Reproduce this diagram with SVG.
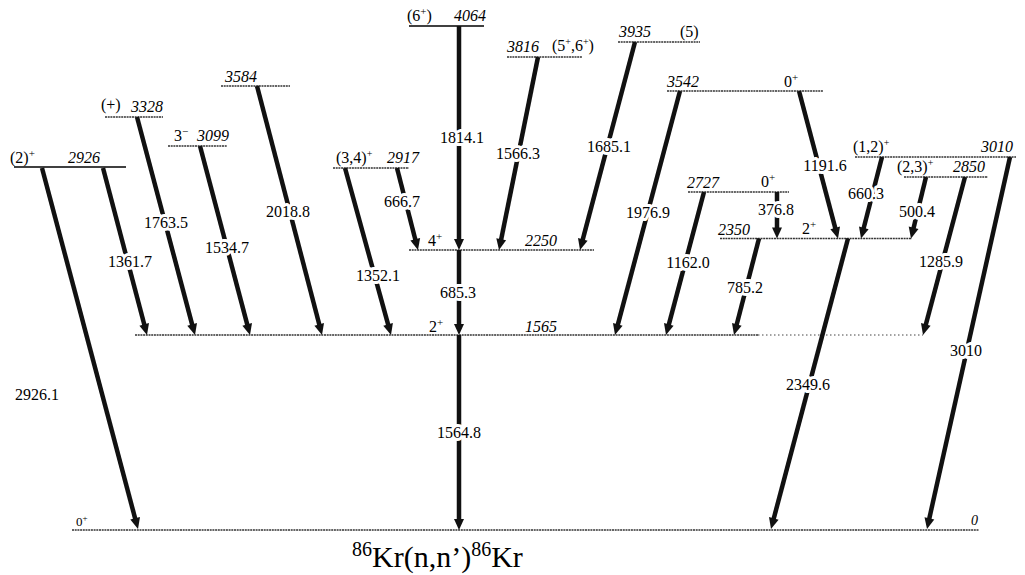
<svg xmlns="http://www.w3.org/2000/svg" width="1025" height="575" viewBox="0 0 1025 575">
<rect width="1025" height="575" fill="#fff"/>
<g id="levels" font-family="Liberation Serif" font-size="16" fill="#000">
<g id="level-0">
<line x1="72" y1="530" x2="979" y2="530" stroke="#333" stroke-width="1.4" stroke-dasharray="2 0.7"/>
<text x="76" y="526" font-size="13" style="font-family:'Liberation Serif',serif !important">0<tspan font-size="9" dy="-5">+</tspan></text>
<text x="971" y="525" font-size="14" font-style="italic" style="font-family:'Liberation Serif',serif !important">0</text>
</g>
<g id="level-1565">
<line x1="135" y1="335" x2="758" y2="335" stroke="#333" stroke-width="1.4" stroke-dasharray="2 0.7"/>
<line x1="758" y1="335" x2="923" y2="335" stroke="#444" stroke-width="1" stroke-dasharray="1.5 2.5"/>
<text x="429" y="332" font-size="16" style="font-family:'Liberation Serif',serif !important">2<tspan font-size="11" dy="-6">+</tspan></text>
<text x="525" y="332" font-size="16" font-style="italic" style="font-family:'Liberation Serif',serif !important">1565</text>
</g>
<g id="level-2250">
<line x1="409" y1="250" x2="594" y2="250" stroke="#333" stroke-width="1.4" stroke-dasharray="2 0.7"/>
<text x="428" y="246" font-size="16" style="font-family:'Liberation Serif',serif !important">4<tspan font-size="11" dy="-6">+</tspan></text>
<text x="525" y="246" font-size="16" font-style="italic" style="font-family:'Liberation Serif',serif !important">2250</text>
</g>
<g id="level-2350">
<line x1="720" y1="238.5" x2="912" y2="238.5" stroke="#333" stroke-width="1.4" stroke-dasharray="2 0.7"/>
<text x="718" y="235" font-size="16" font-style="italic" style="font-family:'Liberation Serif',serif !important">2350</text>
<text x="802" y="234" font-size="16" style="font-family:'Liberation Serif',serif !important">2<tspan font-size="11" dy="-6">+</tspan></text>
</g>
<g id="level-2727">
<line x1="688" y1="192" x2="789" y2="192" stroke="#333" stroke-width="1.4" stroke-dasharray="2 0.7"/>
<text x="687" y="188" font-size="16" font-style="italic" style="font-family:'Liberation Serif',serif !important">2727</text>
<text x="761" y="187" font-size="16" style="font-family:'Liberation Serif',serif !important">0<tspan font-size="11" dy="-6">+</tspan></text>
</g>
<g id="level-2850">
<line x1="904" y1="177" x2="988" y2="177" stroke="#333" stroke-width="1.4" stroke-dasharray="2 0.7"/>
<text x="897" y="172" font-size="16" style="font-family:'Liberation Serif',serif !important">(2,3)<tspan font-size="10" dy="-6">+</tspan></text>
<text x="953" y="172" font-size="16" font-style="italic" style="font-family:'Liberation Serif',serif !important">2850</text>
</g>
<g id="level-2917">
<line x1="333" y1="168" x2="409" y2="168" stroke="#333" stroke-width="1.4" stroke-dasharray="2 0.7"/>
<text x="336" y="163" font-size="16" style="font-family:'Liberation Serif',serif !important">(3,4)<tspan font-size="10" dy="-6">+</tspan></text>
<text x="387" y="163" font-size="16" font-style="italic" style="font-family:'Liberation Serif',serif !important">2917</text>
</g>
<g id="level-2926">
<line x1="14" y1="167" x2="126" y2="167" stroke="#000" stroke-width="1.3"/>
<text x="10" y="163" font-size="16" style="font-family:'Liberation Serif',serif !important">(2)<tspan font-size="11" dy="-6">+</tspan></text>
<text x="68" y="163" font-size="16" font-style="italic" style="font-family:'Liberation Serif',serif !important">2926</text>
</g>
<g id="level-3010">
<line x1="855" y1="157" x2="1016" y2="157" stroke="#333" stroke-width="1.4" stroke-dasharray="2 0.7"/>
<text x="853" y="152" font-size="16" style="font-family:'Liberation Serif',serif !important">(1,2)<tspan font-size="10" dy="-6">+</tspan></text>
<text x="981" y="152" font-size="16" font-style="italic" style="font-family:'Liberation Serif',serif !important">3010</text>
</g>
<g id="level-3099">
<line x1="168" y1="146" x2="227" y2="146" stroke="#333" stroke-width="1.4" stroke-dasharray="2 0.7"/>
<text x="174" y="141" font-size="16" style="font-family:'Liberation Serif',serif !important">3<tspan font-size="11" dy="-6">−</tspan></text>
<text x="197" y="141" font-size="16" font-style="italic" style="font-family:'Liberation Serif',serif !important">3099</text>
</g>
<g id="level-3328">
<line x1="105" y1="117" x2="163" y2="117" stroke="#333" stroke-width="1.4" stroke-dasharray="2 0.7"/>
<text x="101" y="110" font-size="16" style="font-family:'Liberation Serif',serif !important">(+)</text>
<text x="131" y="112" font-size="16" font-style="italic" style="font-family:'Liberation Serif',serif !important">3328</text>
</g>
<g id="level-3542">
<line x1="667" y1="91" x2="823" y2="91" stroke="#333" stroke-width="1.4" stroke-dasharray="2 0.7"/>
<text x="667" y="87" font-size="16" font-style="italic" style="font-family:'Liberation Serif',serif !important">3542</text>
<text x="784" y="87" font-size="16" style="font-family:'Liberation Serif',serif !important">0<tspan font-size="11" dy="-6">+</tspan></text>
</g>
<g id="level-3584">
<line x1="221" y1="86" x2="290" y2="86" stroke="#333" stroke-width="1.4" stroke-dasharray="2 0.7"/>
<text x="225" y="82" font-size="16" font-style="italic" style="font-family:'Liberation Serif',serif !important">3584</text>
</g>
<g id="level-3816">
<line x1="507" y1="57" x2="582" y2="57" stroke="#333" stroke-width="1.4" stroke-dasharray="2 0.7"/>
<text x="507" y="52" font-size="16" font-style="italic" style="font-family:'Liberation Serif',serif !important">3816</text>
<text x="552" y="51" font-size="16" style="font-family:'Liberation Serif',serif !important">(5<tspan font-size="10" dy="-6">+</tspan><tspan dy="6">,6</tspan><tspan font-size="10" dy="-6">+</tspan><tspan dy="6">)</tspan></text>
</g>
<g id="level-3935">
<line x1="618" y1="42" x2="700" y2="42" stroke="#333" stroke-width="1.4" stroke-dasharray="2 0.7"/>
<text x="619" y="37" font-size="16" font-style="italic" style="font-family:'Liberation Serif',serif !important">3935</text>
<text x="680" y="37" font-size="16" style="font-family:'Liberation Serif',serif !important">(5)</text>
</g>
<g id="level-4064">
<line x1="409" y1="26" x2="484" y2="26" stroke="#000" stroke-width="1.3"/>
<text x="407" y="21" font-size="16" style="font-family:'Liberation Serif',serif !important">(6<tspan font-size="11" dy="-6">+</tspan><tspan dy="6">)</tspan></text>
<text x="454" y="21" font-size="16" font-style="italic" style="font-family:'Liberation Serif',serif !important">4064</text>
</g>
</g>

<g id="connectors">
<g stroke="#111" stroke-width="4.5" fill="none">
<line x1="42" y1="168" x2="135.9" y2="521.3"/>
<line x1="103" y1="168" x2="145" y2="327.3"/>
<line x1="137" y1="117" x2="192.9" y2="327.3"/>
<line x1="200" y1="146" x2="248" y2="327.3"/>
<line x1="257" y1="86" x2="320" y2="327.3"/>
<line x1="345" y1="168" x2="388.9" y2="327.3"/>
<line x1="397" y1="168" x2="416" y2="242.2"/>
<line x1="459" y1="26" x2="459" y2="242"/>
<line x1="459" y1="250" x2="459" y2="327"/>
<line x1="459" y1="335" x2="459" y2="522"/>
<line x1="538" y1="57" x2="500.6" y2="242.2"/>
<line x1="635" y1="42" x2="582" y2="242.3"/>
<line x1="680" y1="91" x2="617.1" y2="327.3"/>
<line x1="799" y1="91" x2="836" y2="230.8"/>
<line x1="704" y1="192" x2="668.1" y2="327.3"/>
<line x1="777" y1="192" x2="777" y2="230.5"/>
<line x1="759" y1="238.5" x2="736" y2="327.3"/>
<line x1="882" y1="157" x2="863" y2="230.8"/>
<line x1="926" y1="177" x2="912.9" y2="230.7"/>
<line x1="848" y1="238.5" x2="773" y2="521.3"/>
<line x1="965" y1="177" x2="925.1" y2="327.3"/>
<line x1="1010" y1="157" x2="928.7" y2="521.2"/>
</g>
<g fill="#111" stroke="none">
<polygon points="138,529 130.3,519.6 140,517.1"/>
<polygon points="147,335 139.4,325.7 149,323.1"/>
<polygon points="195,335 187.3,325.7 197,323.1"/>
<polygon points="250,335 242.4,325.7 252,323.1"/>
<polygon points="322,335 314.4,325.7 324,323.1"/>
<polygon points="391,335 383.3,325.7 392.9,323.1"/>
<polygon points="418,250 410.4,240.6 420.1,238.1"/>
<polygon points="459,250 454,239 464,239"/>
<polygon points="459,335 454,324 464,324"/>
<polygon points="459,530 454,519 464,519"/>
<polygon points="499,250 496.3,238.2 506.1,240.2"/>
<polygon points="580,250 578,238.1 587.6,240.7"/>
<polygon points="615,335 613,323.1 622.6,325.7"/>
<polygon points="838,238.5 830.4,229.2 840,226.6"/>
<polygon points="666,335 664,323.1 673.6,325.7"/>
<polygon points="777,238.5 772,227.5 782,227.5"/>
<polygon points="734,335 732,323.1 741.6,325.7"/>
<polygon points="861,238.5 859,226.6 868.6,229.2"/>
<polygon points="911,238.5 908.7,226.6 918.5,229"/>
<polygon points="771,529 769,517.1 778.6,519.7"/>
<polygon points="923,335 921,323.1 930.6,325.7"/>
<polygon points="927,529 924.5,517.2 934.3,519.4"/>
</g>
<g font-family="Liberation Serif" font-size="16" text-anchor="middle" fill="#000" stroke="#fff" stroke-width="6" stroke-linejoin="round" paint-order="stroke">
<text x="37" y="400" style="font-family:'Liberation Serif',serif !important">2926.1</text>
<text x="130" y="267" style="font-family:'Liberation Serif',serif !important">1361.7</text>
<text x="166" y="228" style="font-family:'Liberation Serif',serif !important">1763.5</text>
<text x="227" y="253" style="font-family:'Liberation Serif',serif !important">1534.7</text>
<text x="288" y="217" style="font-family:'Liberation Serif',serif !important">2018.8</text>
<text x="378" y="281" style="font-family:'Liberation Serif',serif !important">1352.1</text>
<text x="402" y="207" style="font-family:'Liberation Serif',serif !important">666.7</text>
<text x="462" y="143" style="font-family:'Liberation Serif',serif !important">1814.1</text>
<text x="518" y="159" style="font-family:'Liberation Serif',serif !important">1566.3</text>
<text x="609" y="152" style="font-family:'Liberation Serif',serif !important">1685.1</text>
<text x="458" y="298" style="font-family:'Liberation Serif',serif !important">685.3</text>
<text x="459" y="438" style="font-family:'Liberation Serif',serif !important">1564.8</text>
<text x="648" y="218" style="font-family:'Liberation Serif',serif !important">1976.9</text>
<text x="825" y="171" style="font-family:'Liberation Serif',serif !important">1191.6</text>
<text x="776" y="215" style="font-family:'Liberation Serif',serif !important">376.8</text>
<text x="866" y="199" style="font-family:'Liberation Serif',serif !important">660.3</text>
<text x="917" y="217" style="font-family:'Liberation Serif',serif !important">500.4</text>
<text x="688" y="268" style="font-family:'Liberation Serif',serif !important">1162.0</text>
<text x="745" y="293" style="font-family:'Liberation Serif',serif !important">785.2</text>
<text x="941" y="267" style="font-family:'Liberation Serif',serif !important">1285.9</text>
<text x="966" y="356" style="font-family:'Liberation Serif',serif !important">3010</text>
<text x="808" y="390" style="font-family:'Liberation Serif',serif !important">2349.6</text>
</g>
</g>

<g id="title">
<text x="352" y="567" font-size="30" style="font-family:'Liberation Serif',serif !important"><tspan font-size="20" dy="-11">86</tspan><tspan dy="11">Kr(n,n’)</tspan><tspan font-size="20" dy="-11">86</tspan><tspan dy="11">Kr</tspan></text>
</g>
</svg>
